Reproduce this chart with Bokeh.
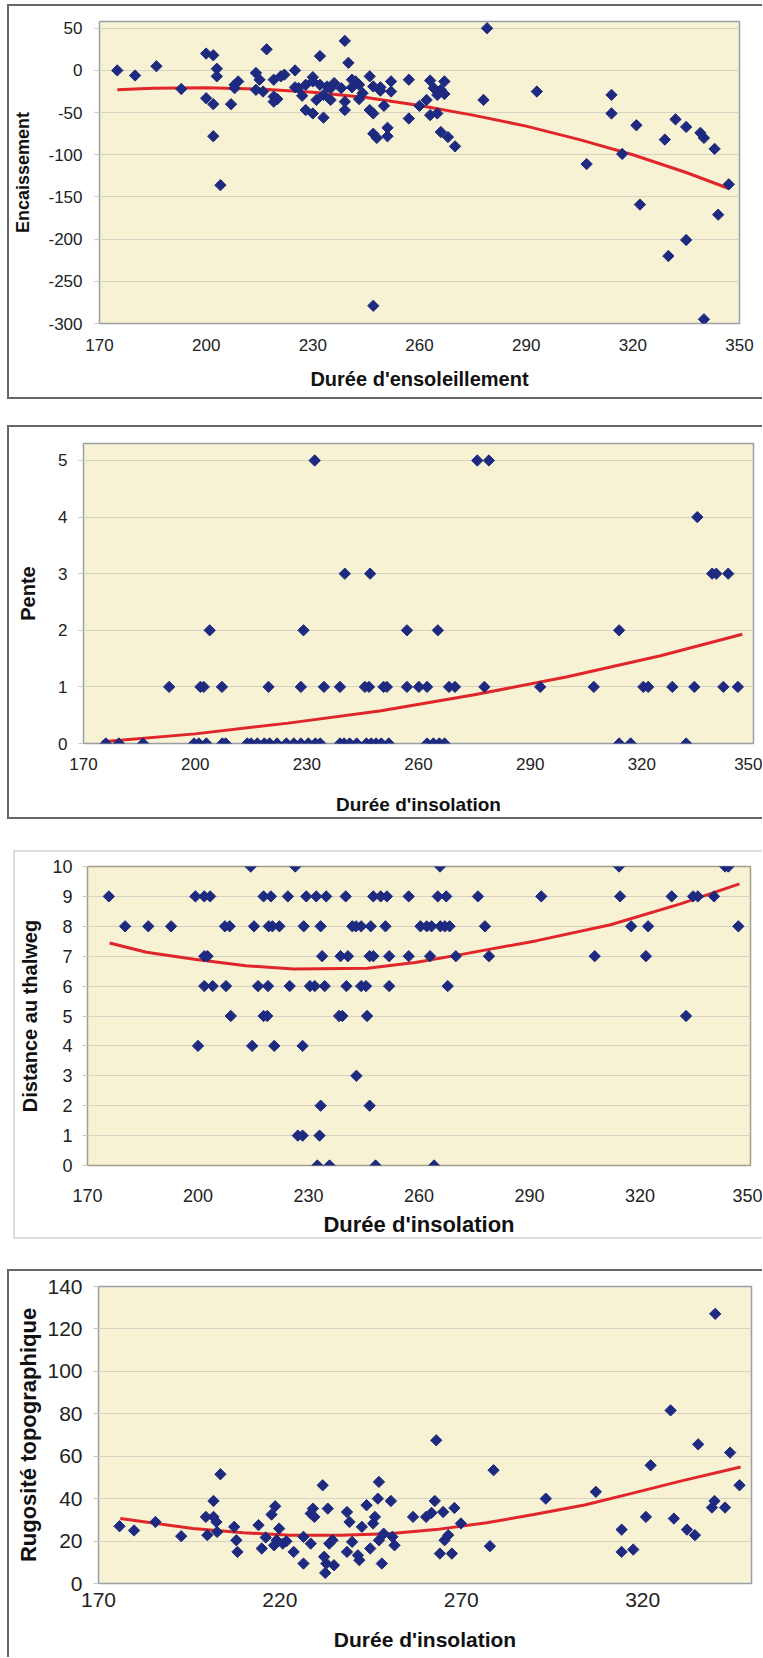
import numpy as np
from bokeh.plotting import figure
from bokeh.models import Range1d, FixedTicker, Spacer
from bokeh.layouts import column, row
from bokeh.embed import file_html
from bokeh.resources import INLINE

# ---------------- data ----------------
# Panel 1 : Encaissement vs Durée d'ensoleillement
ENC_X = [175, 180, 186, 193, 200, 202, 200, 202, 203, 203, 202, 204, 207, 208, 209, 208,
         214, 214, 215, 217, 216, 219, 219, 220, 219, 221, 222, 225, 225, 226, 227, 228,
         228, 230, 230, 230, 231, 232, 232, 233, 233, 234, 235, 235, 236, 239, 239, 239,
         238, 240, 241, 241, 242, 243, 243, 244, 246, 246, 247, 247, 247, 247, 248, 249,
         249, 250, 251, 251, 252, 252, 257, 257, 260, 262, 263, 263, 264, 265, 265, 266,
         266, 267, 267, 268, 270, 278, 279, 293, 307, 314, 314, 317, 321, 322, 329, 330,
         332, 335, 335, 339, 340, 340, 343, 344, 347]
ENC_Y = [0, -6, 5, -22, 20, 18, -33, -40, 2, -7, -78, -136, -40, -17, -13, -21,
         -3, -23, -11, 25, -25, -31, -37, -34, -11, -7, -5, 0, -20, -21, -30, -17,
         -47, -51, -8, -13, -35, 17, -17, -29, -56, -19, -35, -21, -15, 35, -37, -47,
         -21, 9, -11, -20, -13, -34, -17, -27, -7, -47, -19, -51, -75, -279, -80, -20,
         -24, -42, -68, -78, -13, -25, -11, -57, -42, -35, -53, -12, -21, -29, -51, -73,
         -23, -13, -28, -79, -90, -35, 50, -25, -111, -29, -51, -99, -65, -159, -82, -220,
         -58, -67, -201, -74, -80, -295, -93, -171, -135]
ENC_TREND_X = [175, 185, 200, 215, 230, 245, 260, 275, 290, 305, 320, 335, 347]
ENC_TREND_Y = [-23, -21, -20.5, -22, -26, -32, -41.5, -53, -66, -82, -100, -121, -140]

# Panel 2 : Pente vs Durée d'insolation
PENTE_X = [176, 179.5, 186, 199.7, 201, 203, 207.3, 208.2, 214, 215, 216.7, 218.6, 220,
           222, 224.5, 226.5, 228.4, 230.4, 232.3, 233.6, 238.9, 240, 241.5, 243.4, 246,
           247.3, 248.6, 250, 252, 262.3, 264, 265.6, 267, 313.9, 317, 331.9,
           193, 201.4, 202.3, 207.2, 219.7, 228.4, 234.6, 238.9, 245.6, 246.7, 250.6,
           251.5, 256.9, 260.1, 262.3, 268.2, 269.8, 277.7, 292.7, 307.1, 320.4, 321.7,
           328.2, 334.1, 341.9, 345.8,
           203.9, 229.1, 256.9, 265.2, 313.9,
           240.2, 247, 338.9, 340, 343.2,
           334.9,
           232.1, 275.8, 278.9]
PENTE_Y = [0] * 36 + [1] * 26 + [2] * 5 + [3] * 5 + [4] * 1 + [5] * 3
PENTE_TREND_X = [175, 200, 225, 250, 275, 300, 325, 347]
PENTE_TREND_Y = [0.03, 0.17, 0.36, 0.58, 0.86, 1.18, 1.55, 1.93]

# Panel 3 : Distance au thalweg vs Durée d'insolation
DIST_X = [214.3, 226.4, 265.7, 314.3, 343.1, 344,
          175.8, 199.3, 201.7, 203.3, 217.8, 219.8, 224.4, 229.4, 232.1, 234.8, 240.1,
          247.6, 249.6, 251.3, 257.2, 265.1, 267.4, 276, 293.2, 314.6, 328.6, 334.4,
          335.7, 340.1,
          180.2, 186.5, 192.7, 207.3, 208.6, 215.2, 219.2, 220.2, 222.1, 228.7, 233.3,
          241.9, 242.9, 244.3, 246.9, 250.9, 260.4, 262.1, 263.4, 265.8, 267, 268.3,
          277.9, 317.6, 322.2, 346.7,
          201.7, 202.6, 233.7, 238.7, 240.7, 246.6, 247.6, 251.9, 257.2, 263, 270, 279,
          307.7, 321.6,
          201.7, 204, 207.6, 216.3, 219, 224.9, 230.4, 231.7, 234.4, 240.3, 244.3, 245.6,
          251.9, 267.8,
          208.9, 217.8, 218.8, 238.3, 239.2, 245.9, 332.5,
          200, 214.7, 220.7, 228.4,
          243,
          233.3, 246.6,
          227.1, 228.4, 233,
          232.4, 235.7, 248.2, 264.1]
DIST_Y = ([10] * 6 + [9] * 24 + [8] * 26 + [7] * 14 + [6] * 14 + [5] * 7 + [4] * 4
          + [3] * 1 + [2] * 2 + [1] * 3 + [0] * 4)
DIST_TREND_X = [176, 186, 199, 213, 226, 246, 259, 272, 292, 312, 331, 347]
DIST_TREND_Y = [7.44, 7.13, 6.9, 6.68, 6.57, 6.6, 6.79, 7.07, 7.52, 8.05, 8.75, 9.42]

# Panel 4 : Rugosité topographique vs Durée d'insolation
RUG_X = [175.8, 179.8, 185.7, 192.8, 199.6, 200, 201.7, 201.7, 202.5, 203.6, 202.7, 207.4,
         208, 208.3, 214.1, 215, 217.7, 218.7, 216.1, 218.4, 219.1, 219.8, 220.8, 221.8,
         223.8, 226.5, 226.5, 228.5, 229.1, 229.5, 228.5, 231.8, 232.2, 232.5, 232.8, 233.2,
         233.6, 234.9, 234.5, 238.5, 239.2, 238.5, 239.9, 241.5, 241.9, 242.6, 243.9, 244.9,
         245.7, 246.2, 247, 247.3, 247.3, 248.1, 248.6, 250.6, 251, 251.6, 256.7, 260.3,
         261.8, 262.7, 263.1, 264.1, 265, 265.4, 266.4, 267.4, 268.1, 269.9, 277.9, 278.9,
         293.3, 307.1, 314.2, 314.2, 317.4, 320.9, 322.2, 327.7, 328.6, 332.2, 334.4, 335.3,
         339.1, 339.8, 340, 342.7, 344.1, 346.7]
RUG_Y = [27, 25, 29, 22.3, 31.4, 22.8, 38.9, 31.4, 29, 51.5, 24.3, 26.7,
         20.4, 14.9, 27.5, 16.5, 32.5, 36.4, 21.7, 18, 20.4, 25.9, 18.8, 19.9,
         14.9, 9.4, 22, 33, 35.3, 31.4, 18.8, 46.3, 12.6, 5, 9.4, 35.3,
         18.8, 8.6, 20.4, 33.7, 29, 14.9, 19.6, 13.3, 11, 26.7, 36.9, 16.5,
         28.3, 31.4, 40, 47.9, 20.4, 9.4, 23.5, 38.9, 22, 18, 31.4, 31.4,
         33.3, 38.9, 67.5, 14.1, 33.7, 20.4, 22.8, 14.1, 35.6, 28.3, 17.6, 53.4,
         40, 43.2, 25.4, 14.9, 16, 31.4, 55.7, 81.6, 30.6, 25.4, 22.8, 65.6,
         35.8, 38.9, 127.1, 35.8, 61.7, 46.3]
RUG_TREND_X = [176, 183, 196, 210, 223, 236.5, 250, 263, 277, 290, 304, 317, 331, 347]
RUG_TREND_Y = [30.6, 29, 25.9, 23.9, 22.8, 22.8, 23.5, 25.4, 28.6, 32.5, 37, 42.5, 48.5, 54.9]

X_TICKS_30 = [170, 200, 230, 260, 290, 320, 350]
X_TICKS_50 = [170, 220, 270, 320]
ENC_TICKS = [-300, -250, -200, -150, -100, -50, 0, 50]
PENTE_TICKS = [0, 1, 2, 3, 4, 5]
DIST_TICKS = list(range(0, 11))
RUG_TICKS = [0, 20, 40, 60, 80, 100, 120, 140]

FONT = "Liberation Sans"
BG = "#F7F2D4"
GRID = "#D6D3C2"
MARK = "#1E2A80"
RED = "#E0262A"


def panel(fw, fh, borders, yr, yticks, xticks, xs, ys, tx, ty, ytitle, xtitle,
          sizes, stand, outline, shadow):
    bl, br, bt, bb = borders
    tick_fs, ytitle_fs, xtitle_fs = sizes
    ystand, xstand, ytstand, xtstand = stand
    p = figure(frame_width=fw, frame_height=fh, output_backend="svg",
               toolbar_location=None,
               x_range=Range1d(170, 350), y_range=Range1d(*yr),
               min_border_left=bl, min_border_right=br, min_border_top=bt,
               min_border_bottom=bb,
               styles={"background-color": "white", "box-shadow": shadow})
    p.background_fill_color = BG
    p.border_fill_alpha = 0
    p.outline_line_color = outline
    p.outline_line_width = 1.5
    p.xgrid.visible = False
    p.ygrid.grid_line_color = GRID
    p.ygrid.grid_line_width = 1
    p.xaxis.ticker = FixedTicker(ticks=xticks)
    p.yaxis.ticker = FixedTicker(ticks=yticks)
    p.yaxis.major_label_overrides = {t: str(t) for t in yticks}
    p.xaxis.major_label_overrides = {t: str(t) for t in xticks}
    for ax in (p.xaxis[0], p.yaxis[0]):
        ax.axis_line_color = None
        ax.minor_tick_line_color = None
        ax.major_tick_in = 0
        ax.major_label_text_font = FONT
        ax.major_label_text_font_size = f"{tick_fs}px"
        ax.major_label_text_color = "#222222"
        ax.axis_label_text_font = FONT
        ax.axis_label_text_font_style = "bold"
        ax.axis_label_text_color = "#111111"
    p.yaxis.major_tick_out = 5
    p.yaxis.major_tick_line_color = "#C8C8C0"
    p.xaxis.major_tick_out = 0
    p.xaxis.major_tick_line_color = None
    p.yaxis.major_label_standoff = ystand
    p.xaxis.major_label_standoff = xstand
    p.yaxis.axis_label = ytitle
    p.xaxis.axis_label = xtitle
    p.yaxis.axis_label_text_font_size = f"{ytitle_fs}px"
    p.xaxis.axis_label_text_font_size = f"{xtitle_fs}px"
    p.yaxis.axis_label_standoff = ytstand
    p.xaxis.axis_label_standoff = xtstand

    p.line(tx, ty, line_color=RED, line_width=3)
    p.scatter(xs, ys, marker="square", angle=np.pi / 4, size=8,
              fill_color=MARK, line_color=MARK)
    return p


DARK = "#666666"
LIGHT = "#DDDDDD"
p1 = panel(640, 302, (92, 23, 17, 76), (-300, 58), ENC_TICKS, X_TICKS_30, ENC_X, ENC_Y,
           ENC_TREND_X, ENC_TREND_Y, "Encaissement", "Durée d'ensoleillement",
           (17, 18, 20), (12, 15, 12, 14), "#9A9FA6",
           f"inset 2px 2px 0 0 {DARK}, inset 0 -2px 0 0 {DARK}")
p2 = panel(670, 300, (76, 9, 18, 76), (0, 5.3), PENTE_TICKS, X_TICKS_30, PENTE_X, PENTE_Y,
           PENTE_TREND_X, PENTE_TREND_Y, "Pente", "Durée d'insolation",
           (17, 20, 19), (11, 14, 16, 21), "#9A9FA6",
           f"inset 2px 2px 0 0 {DARK}, inset 0 -2px 0 0 {DARK}")
p3 = panel(663, 299, (74, 12, 16, 74), (0, 10), DIST_TICKS, X_TICKS_30, DIST_X, DIST_Y,
           DIST_TREND_X, DIST_TREND_Y, "Distance au thalweg", "Durée d'insolation",
           (18, 20, 22), (10, 23, 8, 7), "#A39F87",
           f"inset 2px 2px 0 0 {LIGHT}, inset 0 -2px 0 0 {LIGHT}")
p4 = panel(653, 297, (91, 11, 17, 74), (0, 140), RUG_TICKS, X_TICKS_50, RUG_X, RUG_Y,
           RUG_TREND_X, RUG_TREND_Y, "Rugosité topographique", "Durée d'insolation",
           (21, 22, 21), (11, 9, 3, 18), "#9A9FA6",
           f"inset 2px 2px 0 0 {DARK}")

layout = column(Spacer(height=4),
                row(Spacer(width=7), p1),
                Spacer(height=26),
                row(Spacer(width=7), p2),
                Spacer(height=31),
                row(Spacer(width=13), p3),
                Spacer(height=30),
                row(Spacer(width=7), p4),
                spacing=0)
open("out.html", "w").write(file_html(layout, INLINE))
